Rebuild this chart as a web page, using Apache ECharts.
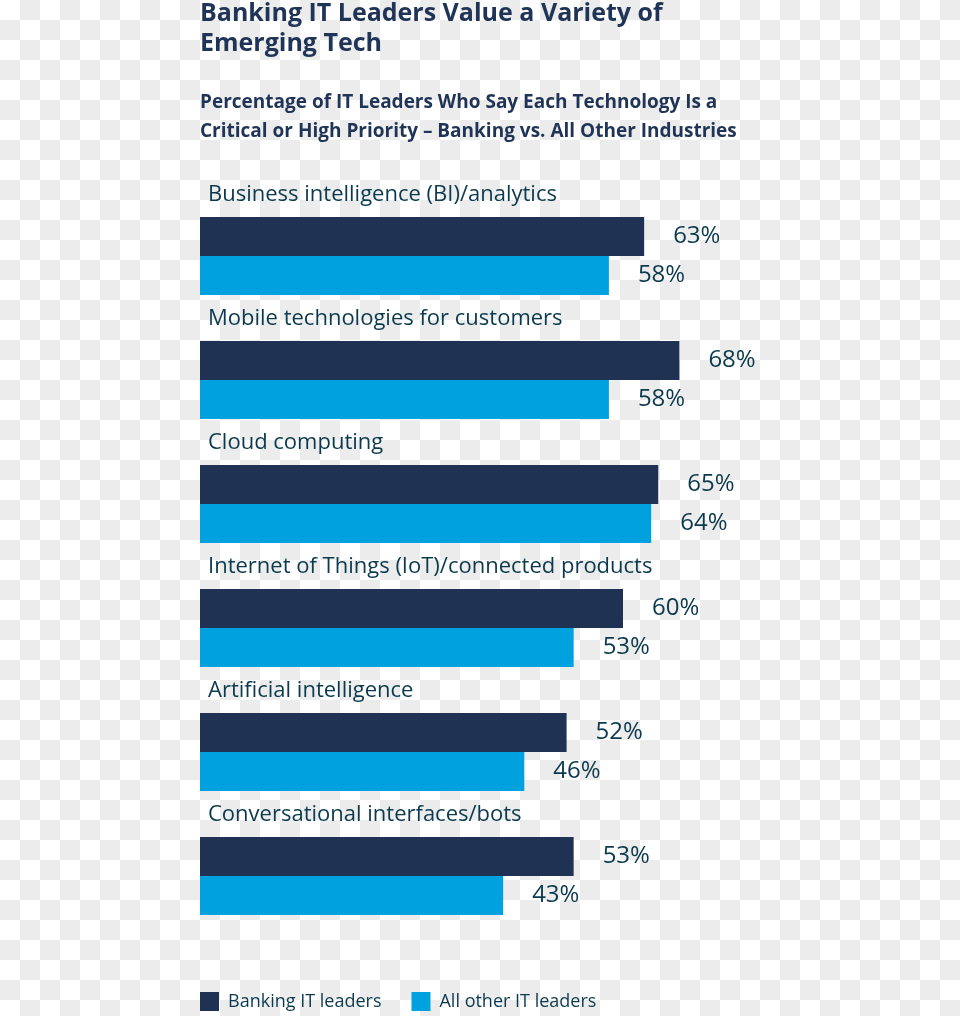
<!DOCTYPE html>
<html>
<head>
<meta charset="utf-8">
<script src="https://cdn.jsdelivr.net/npm/echarts@6/dist/echarts.min.js"></script>
<style>
html,body{margin:0;padding:0;width:960px;height:1016px;overflow:hidden;
background:repeating-conic-gradient(#ececec 0 25%, #ffffff 0 50%) 0 0/40px 40px;}
#chart{width:960px;height:1016px;}
</style>
</head>
<body>
<div id="chart"></div>
<script>
const categories = [
  'Business intelligence (BI)/analytics',
  'Mobile technologies for customers',
  'Cloud computing',
  'Internet of Things (IoT)/connected products',
  'Artificial intelligence',
  'Conversational interfaces/bots'
];
const bankingValues = [63, 68, 65, 60, 52, 53];
const otherValues = [58, 58, 64, 53, 46, 43];
const seriesNames = ['Banking IT leaders', 'All other IT leaders'];
const titleText = 'Banking IT Leaders Value a Variety of\nEmerging Tech';
const subtitleText = 'Percentage of IT Leaders Who Say Each Technology Is a\nCritical or High Priority \u2013 Banking vs. All Other Industries';

const FONT = 'Open Sans';
const NAVY = '#1f3253';
const BLUE = '#00a1df';
const TEXT = '#0b3a4e';

const chart = echarts.init(document.getElementById('chart'), null, {renderer: 'canvas'});
chart.setOption({
  backgroundColor: 'transparent',
  animation: false,
  title: [
    {
      text: titleText,
      left: 200, top: -1, padding: 0,
      textStyle: {fontFamily: FONT, fontWeight: 'bold', fontSize: 25, lineHeight: 30, color: '#1f3456'}
    },
    {
      text: subtitleText,
      left: 200, top: 88, padding: 0,
      textStyle: {fontFamily: FONT, fontWeight: 'bold', fontSize: 19, lineHeight: 29, color: '#1f3456'}
    }
  ],
  legend: {
    left: 200, top: 992, padding: 0,
    itemWidth: 19, itemHeight: 19, itemGap: 30,
    icon: 'rect',
    textStyle: {fontFamily: FONT, fontSize: 18, color: TEXT, padding: [0, 0, 0, 4]},
    data: seriesNames
  },
  grid: {left: 200, right: 55, top: 194, bottom: 78, containLabel: false},
  xAxis: {
    type: 'value', min: 0, max: 100,
    show: false
  },
  yAxis: {
    type: 'category', inverse: true, data: categories,
    axisLine: {show: false}, axisTick: {show: false}, splitLine: {show: false},
    z: 10,
    axisLabel: {
      inside: true, margin: 8, align: 'left', verticalAlign: 'bottom',
      formatter: v => '{n|' + v + '}\n{g|}',
      rich: {
        n: {fontFamily: FONT, fontSize: 22, lineHeight: 26, color: TEXT},
        g: {height: 48}
      }
    }
  },
  series: [
    {
      name: seriesNames[0], type: 'bar', data: bankingValues,
      barWidth: 39, barGap: '0%',
      itemStyle: {color: NAVY},
      label: {show: true, position: 'right', distance: 29, formatter: '{c}%',
        fontFamily: FONT, fontSize: 24, color: TEXT, padding: [2, 0, 0, 0]}
    },
    {
      name: seriesNames[1], type: 'bar', data: otherValues,
      barWidth: 39, barGap: '0%',
      itemStyle: {color: BLUE},
      label: {show: true, position: 'right', distance: 29, formatter: '{c}%',
        fontFamily: FONT, fontSize: 24, color: TEXT, padding: [2, 0, 0, 0]}
    }
  ]
});
</script>
</body>
</html>
